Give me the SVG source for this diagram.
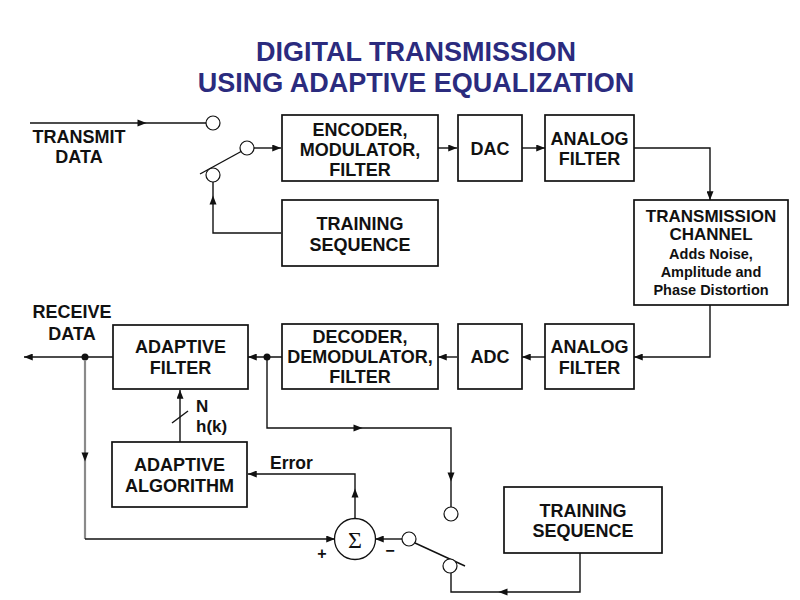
<svg xmlns="http://www.w3.org/2000/svg" xmlns:xlink="http://www.w3.org/1999/xlink" width="800" height="600" viewBox="0 0 800 600">
<style>
.box{fill:#fff;stroke:#111;stroke-width:1.7}
.t{font-family:"Liberation Sans",Arial,sans-serif;font-weight:bold;font-size:18px;fill:#111;text-anchor:middle}
.s{font-size:14.5px}
.c{font-size:17px}
.ln{fill:none;stroke:#111;stroke-width:1.4}
.gr{fill:none;stroke:#8a8a8a;stroke-width:2.2}
.sw{fill:#fff;stroke:#111;stroke-width:1.2}
.title{font-family:"Liberation Sans",Arial,sans-serif;font-weight:bold;font-size:27px;fill:#2b2b7e;text-anchor:middle}
</style>
<defs>
<marker id="arr" viewBox="0 0 10 8" refX="10" refY="4" markerWidth="9" markerHeight="7" markerUnits="userSpaceOnUse" orient="auto"><path d="M0,0 L10,4 L0,8 Z" fill="#111"/></marker>
<path id="ah" d="M4.5,0 L-4.5,-3.5 L-4.5,3.5 Z" fill="#111"/>
</defs>
<rect width="800" height="600" fill="#fff"/>
<g id="title">
<text class="title" x="416" y="61">DIGITAL TRANSMISSION</text>
<text class="title" x="416" y="92">USING ADAPTIVE EQUALIZATION</text>
</g>
<g id="connectors">
<path class="ln" d="M30,123 H206"/>
<use xlink:href="#ah" transform="translate(142,123)"/>
<path class="ln" d="M200,174 L242,151"/>
<path class="ln" d="M254,148 H281" marker-end="url(#arr)"/>
<path class="ln" d="M281,233 H213 V182"/>
<use xlink:href="#ah" transform="translate(213,200) rotate(-90)"/>
<path class="ln" d="M438,148 H457" marker-end="url(#arr)"/>
<path class="ln" d="M522,148 H545" marker-end="url(#arr)"/>
<path class="ln" d="M634,148 H710 V200" marker-end="url(#arr)"/>
<path class="ln" d="M710,305 V357 H634" marker-end="url(#arr)"/>
<path class="ln" d="M545,357 H522" marker-end="url(#arr)"/>
<path class="ln" d="M457,357 H438" marker-end="url(#arr)"/>
<path class="ln" d="M282,357 H248" marker-end="url(#arr)"/>
<path class="ln" d="M113,357 H24" marker-end="url(#arr)"/>
<circle cx="267" cy="357" r="3.5" fill="#111"/>
<circle cx="85" cy="357" r="3.5" fill="#111"/>
<path class="ln" d="M267,357 V428 H451 V507"/>
<use xlink:href="#ah" transform="translate(358,428)"/>
<use xlink:href="#ah" transform="translate(451,477) rotate(90)"/>
<path class="gr" d="M85,360 V539"/>
<path class="ln" d="M85,539 H335" marker-end="url(#arr)"/>
<use xlink:href="#ah" transform="translate(85,457) rotate(90)"/>
<path class="ln" d="M355,519 V474 H248" marker-end="url(#arr)"/>
<use xlink:href="#ah" transform="translate(355,493) rotate(-90)"/>
<path class="ln" d="M402,539 H375" marker-end="url(#arr)"/>
<path class="ln" d="M415,543 L465,566"/>
<path class="ln" d="M580,553 V592 H451 V573"/>
<use xlink:href="#ah" transform="translate(503,592) rotate(180)"/>
<path class="ln" d="M180,442 V390" marker-end="url(#arr)"/>
<path class="ln" d="M172,423 L188,411"/>
</g>
<g id="switches">
<circle class="sw" cx="213" cy="123" r="7"/>
<circle class="sw" cx="247" cy="148" r="7"/>
<circle class="sw" cx="213" cy="175" r="7"/>
<circle class="sw" cx="451" cy="514" r="7"/>
<circle class="sw" cx="409" cy="539" r="7"/>
<circle class="sw" cx="450" cy="566" r="7"/>
</g>
<g id="transmit-data"><text class="t" x="79" y="143">TRANSMIT</text><text class="t" x="79" y="163">DATA</text></g>
<g id="receive-data"><text class="t" x="72" y="318">RECEIVE</text><text class="t" x="72" y="340">DATA</text></g>
<g id="encoder"><rect class="box" x="282" y="115" width="156" height="66"/>
<text class="t" x="360" y="136">ENCODER,</text><text class="t" x="360" y="156">MODULATOR,</text><text class="t" x="360" y="176">FILTER</text></g>
<g id="dac"><rect class="box" x="458" y="115" width="64" height="66"/><text class="t" x="490" y="155">DAC</text></g>
<g id="analog-filter-tx"><rect class="box" x="545" y="115" width="89" height="66"/>
<text class="t" x="589.5" y="145">ANALOG</text><text class="t" x="589.5" y="165">FILTER</text></g>
<g id="training-seq-tx"><rect class="box" x="282" y="200" width="156" height="66"/>
<text class="t" x="360" y="230">TRAINING</text><text class="t" x="360" y="251">SEQUENCE</text></g>
<g id="channel"><rect class="box" x="634" y="200" width="154" height="105"/>
<text class="t c" x="711" y="222">TRANSMISSION</text><text class="t c" x="711" y="240">CHANNEL</text>
<text class="t s" x="711" y="259">Adds Noise,</text><text class="t s" x="711" y="277">Amplitude and</text><text class="t s" x="711" y="295">Phase Distortion</text></g>
<g id="analog-filter-rx"><rect class="box" x="545" y="324" width="89" height="65"/>
<text class="t" x="589.5" y="353">ANALOG</text><text class="t" x="589.5" y="374">FILTER</text></g>
<g id="adc"><rect class="box" x="458" y="324" width="64" height="65"/><text class="t" x="490" y="363">ADC</text></g>
<g id="decoder"><rect class="box" x="282" y="324" width="156" height="65"/>
<text class="t" x="360" y="343">DECODER,</text><text class="t" x="360" y="363">DEMODULATOR,</text><text class="t" x="360" y="383">FILTER</text></g>
<g id="adaptive-filter"><rect class="box" x="113" y="325" width="135" height="64"/>
<text class="t" x="180.5" y="353">ADAPTIVE</text><text class="t" x="180.5" y="374">FILTER</text></g>
<g id="adaptive-algorithm"><rect class="box" x="112" y="442" width="135" height="65"/>
<text class="t" x="179.5" y="471">ADAPTIVE</text><text class="t" x="179.5" y="492">ALGORITHM</text></g>
<g id="training-seq-rx"><rect class="box" x="504" y="487" width="158" height="66"/>
<text class="t" x="583" y="517">TRAINING</text><text class="t" x="583" y="537">SEQUENCE</text></g>
<g id="labels">
<text class="t" x="196" y="412" style="text-anchor:start;font-size:17px">N</text>
<text class="t" x="196" y="432" style="text-anchor:start;font-size:17px">h(k)</text>
<text class="t" x="270" y="469" style="text-anchor:start;font-size:17.5px">Error</text>
<text class="t" x="322" y="559" style="font-size:16px">+</text>
<text class="t" x="390" y="556" style="font-size:16px">−</text>
</g>
<g id="sum"><circle cx="355" cy="539" r="20.5" fill="#fff" stroke="#111" stroke-width="1.3"/>
<text x="355" y="548" style="font-family:'Liberation Serif',serif;font-size:24px;text-anchor:middle;fill:#111">Σ</text></g>
</svg>
